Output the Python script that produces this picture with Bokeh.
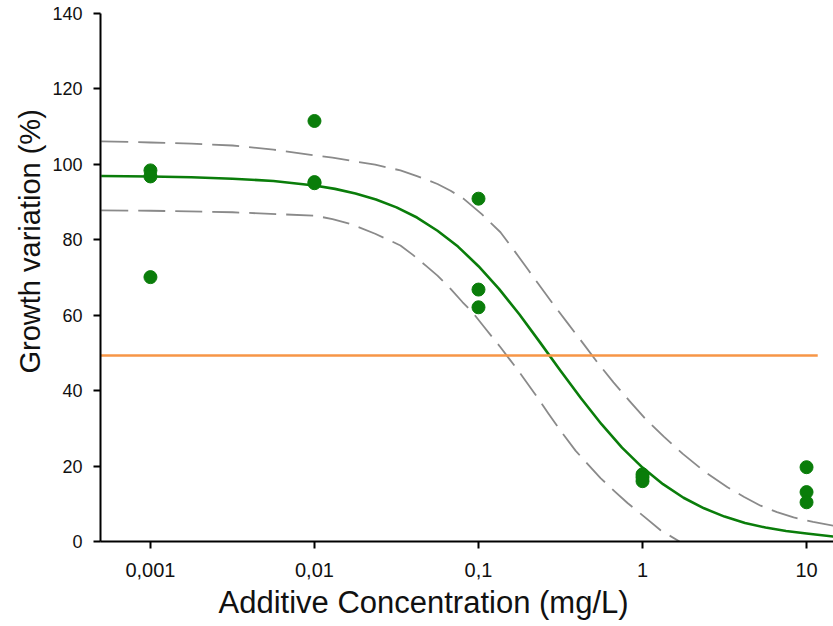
from bokeh.plotting import figure
from bokeh.models import FixedTicker, Range1d, Title
from bokeh.embed import file_html
from bokeh.resources import INLINE

# ---- data ----
conc_001 = [0.001, 0.001, 0.001]
growth_001 = [98.4, 96.8, 70.1]
conc_01 = [0.01, 0.01, 0.01]
growth_01 = [111.5, 95.3, 95.0]
conc_1 = [0.1, 0.1, 0.1]
growth_1 = [90.9, 66.8, 62.1]
conc_10 = [1.0, 1.0, 1.0]
growth_10 = [17.8, 16.0, 17.0]
conc_100 = [10.0, 10.0, 10.0]
growth_100 = [19.7, 13.1, 10.4]

# fitted curve (x given as log10 of concentration)
fit_logx = [-3.3, -3.0, -2.75, -2.5, -2.25, -2.0, -1.875, -1.75, -1.625, -1.5,
            -1.375, -1.25, -1.125, -1.0, -0.875, -0.75, -0.625, -0.5, -0.375, -0.25,
            -0.125, 0.0, 0.125, 0.25, 0.375, 0.5, 0.625, 0.75, 0.875, 1.0, 1.164]
fit_y = [96.9, 96.8, 96.6, 96.2, 95.6, 94.4, 93.5, 92.3, 90.7, 88.6,
         85.9, 82.4, 78.2, 73.0, 67.0, 60.2, 52.8, 45.3, 38.0, 31.1,
         24.9, 19.6, 15.2, 11.6, 8.8, 6.6, 4.9, 3.7, 2.8, 2.1, 1.3]

# upper confidence band
upper_logx = [-3.3, -3.0, -2.75, -2.5, -2.25, -2.0, -1.89, -1.78, -1.63, -1.476,
              -1.375, -1.25, -1.17, -1.0915, -0.98, -0.866, -0.78, -0.695, -0.561, -0.46,
              -0.36, -0.27, -0.177, -0.08, 0.018, 0.13, 0.244, 0.38, 0.518, 0.62,
              0.72, 0.82, 0.921, 1.04, 1.164]
upper_y = [106.1, 105.8, 105.5, 105.0, 103.9, 102.4, 101.8, 101.0, 99.9, 98.4,
           96.9, 94.8, 93.0, 90.9, 86.8, 82.0, 77.0, 71.9, 63.9, 58.1,
           52.4, 47.2, 42.2, 37.3, 32.5, 27.8, 23.3, 18.5, 14.4, 11.8,
           9.5, 7.8, 6.4, 5.2, 4.2]

# lower confidence band
lower_logx = [-3.3, -3.0, -2.5, -2.0, -1.89, -1.78, -1.63, -1.476, -1.4, -1.323,
              -1.25, -1.17, -1.098, -1.037, -0.957, -0.866, -0.81, -0.744, -0.66, -0.573,
              -0.49, -0.4085, -0.33, -0.256, -0.17, -0.0915, 0.01, 0.11, 0.2256]
lower_y = [87.8, 87.7, 87.3, 86.4, 85.5, 84.2, 81.6, 78.5, 76.0, 73.2,
           70.5, 67.0, 63.5, 60.8, 56.4, 51.5, 48.3, 44.5, 39.4, 33.9,
           28.8, 24.1, 20.3, 16.8, 13.3, 10.2, 6.6, 3.0, 0.0]

# 50 % reference line
ref_x = [0.0005, 11.7]
ref_y = [49.3, 49.3]

x_ticks = [0.001, 0.01, 0.1, 1, 10]
x_tick_labels = ["0,001", "0,01", "0,1", "1", "10"]
y_ticks = [0, 20, 40, 60, 80, 100, 120, 140]

x_title = "Additive Concentration (mg/L)"
y_title = "Growth variation (%)"

fit_x = [10 ** v for v in fit_logx]
upper_x = [10 ** v for v in upper_logx]
lower_x = [10 ** v for v in lower_logx]

GREEN = "#0a7d0a"
GRAY = "#8a8a8a"
ORANGE = "#f79646"

p = figure(width=833, height=626, x_axis_type="log",
           x_range=Range1d(0.000496, 14.6), y_range=Range1d(0, 140),
           output_backend="svg", toolbar_location=None,
           min_border_left=100, min_border_right=0,
           min_border_top=13, min_border_bottom=85)

p.xgrid.visible = False
p.ygrid.visible = False
p.outline_line_color = None
p.background_fill_color = "white"
p.border_fill_color = "white"

p.line(upper_x, upper_y, line_color=GRAY, line_width=1.8, line_dash="27 10", line_join="round")
p.line(lower_x, lower_y, line_color=GRAY, line_width=1.8, line_dash="27 10", line_join="round")
p.line(fit_x, fit_y, line_color=GREEN, line_width=2.6, line_join="round")
p.line(ref_x, ref_y, line_color=ORANGE, line_width=2.6)

for xs, ys in [(conc_001, growth_001), (conc_01, growth_01), (conc_1, growth_1),
               (conc_10, growth_10), (conc_100, growth_100)]:
    p.scatter(xs, ys, size=13, fill_color=GREEN, line_color=GREEN)

for ax in (p.xaxis[0], p.yaxis[0]):
    ax.axis_line_width = 2
    ax.axis_line_color = "black"
    ax.major_tick_line_width = 2
    ax.major_tick_line_color = "black"
    ax.major_tick_out = 7
    ax.major_tick_in = 0
    ax.minor_tick_line_color = None
    ax.major_label_text_font = "Liberation Sans"
    ax.major_label_text_color = "#111111"

p.xaxis.ticker = FixedTicker(ticks=x_ticks)
p.xaxis.major_label_overrides = {t: l for t, l in zip(x_ticks, x_tick_labels)}
p.xaxis.major_label_text_font_size = "20px"
p.xaxis.major_label_standoff = 14
p.yaxis.ticker = FixedTicker(ticks=y_ticks)
p.yaxis.major_label_text_font_size = "18px"
p.yaxis.major_label_standoff = 11

p.add_layout(Title(text=x_title, align="left", offset=118, text_font="Liberation Sans",
                   text_font_size="31px", text_font_style="normal",
                   text_color="#111111", standoff=6), "below")
p.add_layout(Title(text=y_title, align="left", offset=168, text_font="Liberation Sans",
                   text_font_size="29px", text_font_style="normal",
                   text_color="#111111", standoff=7), "left")

open("out.html", "w").write(file_html(p, INLINE))
